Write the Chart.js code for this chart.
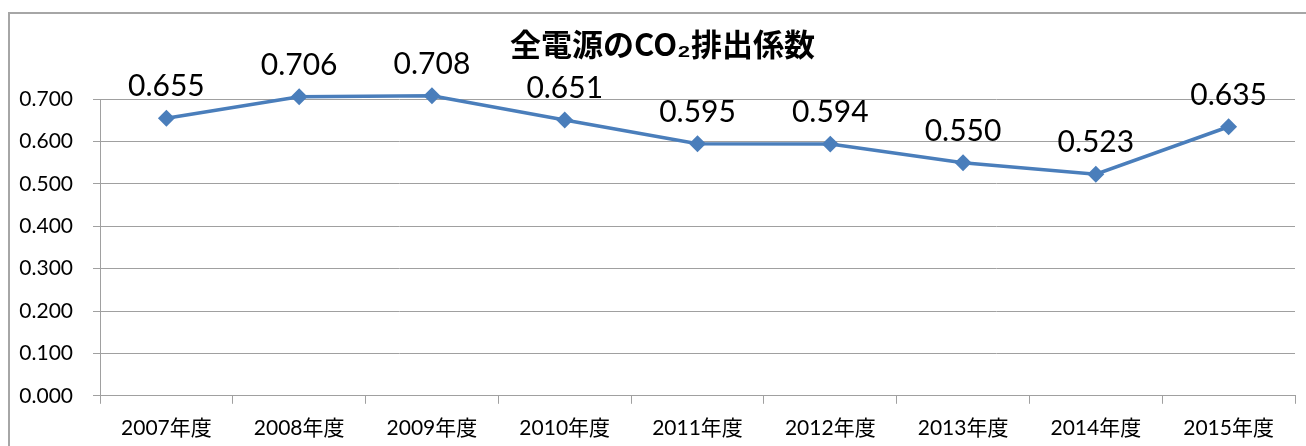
<!DOCTYPE html>
<html>
<head>
<meta charset="utf-8">
<script src="https://cdn.jsdelivr.net/npm/chart.js@4"></script>
<style>
  html, body { margin: 0; padding: 0; background: #fff; overflow: hidden; }
  #frame {
    position: absolute; left: 8px; top: 12px;
    width: 1310px; height: 440px;
    border: 2px solid #a6a6a6;
    background: #fff;
  }
</style>
</head>
<body>
<div id="frame"><canvas id="lineGraph"></canvas></div>
<script>
// 年度ごとの排出係数 (kg-CO2/kWh)
const YEARS = ['2007年度', '2008年度', '2009年度', '2010年度', '2011年度', '2012年度', '2013年度', '2014年度', '2015年度'];
const CO2_FACTOR = [0.655, 0.706, 0.708, 0.651, 0.595, 0.594, 0.550, 0.523, 0.635];
const Y_MIN = 0;
const Y_MAX = 0.7;
const Y_STEP = 0.1;

const LINE_BLUE = '#4a7ebb';
const GRID_GRAY = '#a0a0a0';
const LATIN = "Lato, 'Noto Sans CJK JP', sans-serif";

// 点の上に値を書く
const valueLabels = {
    id: 'valueLabels',
    afterDatasetsDraw(chart) {
        const ctx = chart.ctx;
        const meta = chart.getDatasetMeta(0);
        ctx.save();
        ctx.font = '30px ' + LATIN;
        ctx.fillStyle = '#000';
        ctx.textAlign = 'center';
        ctx.textBaseline = 'alphabetic';
        meta.data.forEach(function(pt, i){
            ctx.fillText(CO2_FACTOR[i].toFixed(3), pt.x, pt.y - 22);
        });
        ctx.restore();
    }
};

// タイトルを枠の中央に寄せる
const titleShift = {
    id: 'titleShift',
    afterLayout(chart) {
        if (chart.titleBlock) {
            chart.titleBlock.left += 10;
            chart.titleBlock.right += 10;
        }
    }
};

const ctx = document.getElementById('lineGraph').getContext('2d');
const myChart = new Chart(ctx, {
    type: 'line',
    data: {
        labels: YEARS,
        datasets: [{
            label: '全電源',
            data: CO2_FACTOR,
            borderColor: LINE_BLUE,
            backgroundColor: LINE_BLUE,
            borderWidth: 3.5,
            pointStyle: 'rectRot',
            pointRadius: 6,
            pointHoverRadius: 6,
            tension: 0,
            clip: false
        }]
    },
    options: {
        responsive: true,
        maintainAspectRatio: false,
        animation: false,
        layout: {
            padding: { left: 0, right: 25, top: 0, bottom: 1 }
        },
        plugins: {
            legend: { display: false },
            tooltip: { enabled: false },
            title: {
                display: true,
                text: '全電源のCO₂排出係数',
                color: '#000',
                font: { family: "'Noto Sans CJK JP', sans-serif", size: 31, weight: 'bold' },
                padding: { top: 12, bottom: 36 }
            }
        },
        scales: {
            x: {
                offset: true,
                grid: {
                    display: true,
                    offset: true,
                    drawOnChartArea: false,
                    drawTicks: true,
                    tickLength: 8,
                    color: GRID_GRAY
                },
                border: { display: true, color: GRID_GRAY, width: 1 },
                ticks: {
                    color: '#000',
                    padding: 12,
                    maxRotation: 0,
                    font: { family: LATIN, size: 21 }
                }
            },
            y: {
                min: Y_MIN,
                max: Y_MAX,
                afterFit(scale) { scale.width = 90; },
                grid: {
                    color: GRID_GRAY,
                    lineWidth: 1,
                    drawTicks: true,
                    tickLength: 7
                },
                border: { display: true, color: GRID_GRAY, width: 1 },
                ticks: {
                    stepSize: Y_STEP,
                    color: '#000',
                    padding: 20,
                    font: { family: LATIN, size: 21 },
                    callback: function(v){ return Number(v).toFixed(3); }
                }
            }
        }
    },
    plugins: [valueLabels, titleShift]
});
</script>
</body>
</html>
